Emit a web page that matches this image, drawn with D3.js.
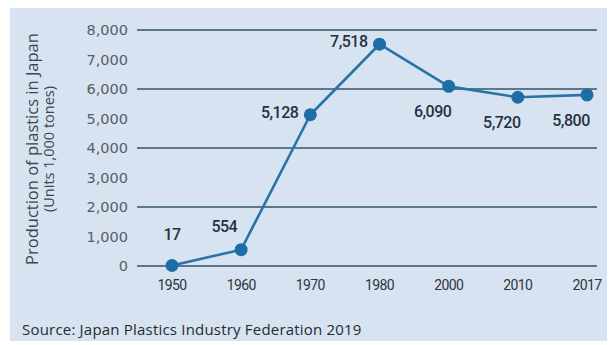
<!DOCTYPE html>
<html>
<head>
<meta charset="utf-8">
<script src="https://cdn.jsdelivr.net/npm/d3@7"></script>
<style>
  html, body { margin: 0; padding: 0; background: #ffffff; }
  svg { display: block; }
</style>
</head>
<body>
<svg id="chart" width="611" height="345"></svg>
<script>
// Plastics production in Japan, thousands of tonnes
const years = ["1950", "1960", "1970", "1980", "2000", "2010", "2017"];
const production = [17, 554, 5128, 7518, 6090, 5720, 5800];
const yTicks = [0, 1000, 2000, 3000, 4000, 5000, 6000, 7000, 8000];
const gridValues = [0, 2000, 4000, 6000, 8000];
// where each value label sits relative to its point
const labelSide = ["above", "aboveLeft", "left", "left", "below", "below", "below"];

const svg = d3.select("#chart");
const W = 611, H = 345;

// light blue panel
svg.append("rect")
  .attr("x", 10).attr("y", 8)
  .attr("width", W - 14).attr("height", H - 12)
  .attr("fill", "#d7e3f0");

const x = d3.scalePoint().domain(years).range([172, 587]);
const y = d3.scaleLinear().domain([0, 8000]).range([266, 30]);

const gridLeft = 137, gridRight = 597;

// horizontal rules
svg.append("g")
  .selectAll("line")
  .data(gridValues)
  .join("line")
  .attr("x1", gridLeft).attr("x2", gridRight)
  .attr("y1", d => y(d)).attr("y2", d => y(d))
  .attr("stroke", "#34556c")
  .attr("stroke-width", 1.7);

// y tick labels
const fmt = d3.format(",");
svg.append("g")
  .selectAll("text")
  .data(yTicks)
  .join("text")
  .attr("x", 128)
  .attr("y", d => y(d))
  .attr("dy", "0.36em")
  .attr("text-anchor", "end")
  .attr("font-family", "DejaVu Sans, sans-serif")
  .attr("font-size", 14.5)
  .attr("fill", "#585d64")
  .text(d => fmt(d));

// x tick labels
svg.append("g")
  .selectAll("text")
  .data(years)
  .join("text")
  .attr("x", d => x(d))
  .attr("y", 290)
  .attr("text-anchor", "middle")
  .attr("font-family", "Roboto, sans-serif")
  .attr("font-size", 14)
  .attr("letter-spacing", -0.6)
  .attr("fill", "#2e3540")
  .text(d => d);

// y axis title
const title = svg.append("text")
  .attr("transform", "translate(32,149) rotate(-90)")
  .attr("text-anchor", "middle")
  .attr("font-family", "Open Sans, sans-serif")
  .attr("fill", "#3f454d");
title.append("tspan")
  .attr("x", 0).attr("dy", "0.35em")
  .attr("font-size", 16.5)
  .text("Production of plastics in Japan");
title.append("tspan")
  .attr("x", 0).attr("dy", "1.15em")
  .attr("font-size", 14.5)
  .text("(Units 1,000 tones)");

// series
const pts = years.map((yr, i) => ({ year: yr, value: production[i], side: labelSide[i] }));

svg.append("path")
  .datum(pts)
  .attr("fill", "none")
  .attr("stroke", "#2874aa")
  .attr("stroke-width", 2.6)
  .attr("stroke-linejoin", "round")
  .attr("d", d3.line().x(d => x(d.year)).y(d => y(d.value)));

svg.append("g")
  .selectAll("circle")
  .data(pts)
  .join("circle")
  .attr("cx", d => x(d.year))
  .attr("cy", d => y(d.value))
  .attr("r", 6.5)
  .attr("fill", "#1e6ea6");

// value labels
const offsets = {
  above:     { dx: 0,   dy: -25, anchor: "middle" },
  aboveLeft: { dx: -4,  dy: -18, anchor: "end" },
  left:      { dx: -12, dy: 3,   anchor: "end" },
  below:     { dx: -16, dy: 31,  anchor: "middle" }
};
svg.append("g")
  .selectAll("text")
  .data(pts)
  .join("text")
  .attr("x", d => x(d.year) + offsets[d.side].dx)
  .attr("y", d => y(d.value) + offsets[d.side].dy)
  .attr("text-anchor", d => offsets[d.side].anchor)
  .attr("font-family", "Roboto, sans-serif")
  .attr("font-size", 16)
  .attr("font-weight", 500)
  .attr("letter-spacing", -0.5)
  .attr("fill", "#27313d")
  .text(d => fmt(d.value));

// source note
svg.append("text")
  .attr("x", 22).attr("y", 335)
  .attr("font-family", "Open Sans, sans-serif")
  .attr("font-size", 15)
  .attr("letter-spacing", 0.2)
  .attr("fill", "#262a30")
  .text("Source: Japan Plastics Industry Federation 2019");
</script>
</body>
</html>
